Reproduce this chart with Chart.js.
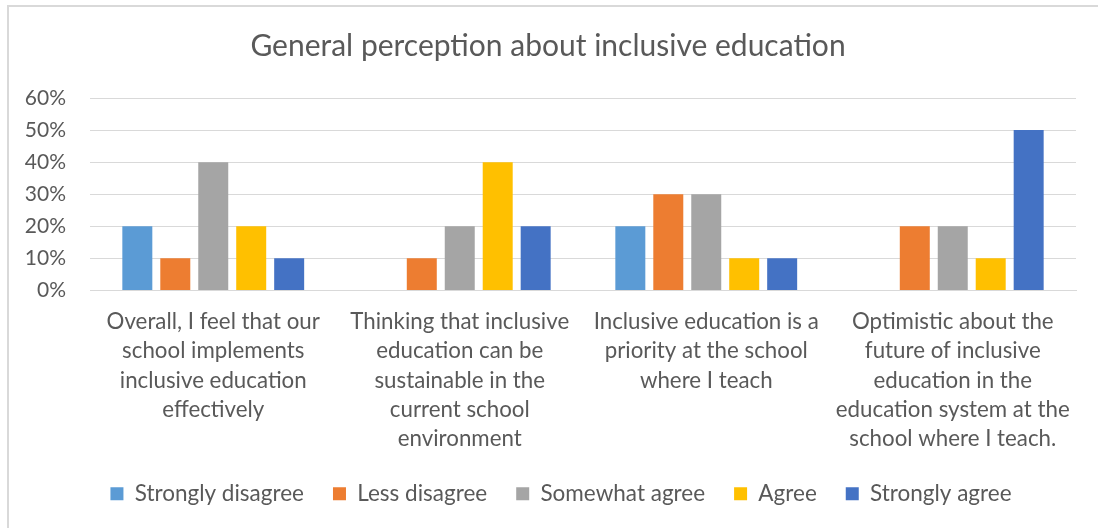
<!DOCTYPE html>
<html><head><meta charset="utf-8">
<script src="https://cdn.jsdelivr.net/npm/chart.js@4"></script>
<style>
html,body{margin:0;padding:0;background:#fff;overflow:hidden}
#frame{position:absolute;left:7px;top:5px;width:1200px;height:600px;border-left:2px solid #d9d9d9;border-top:2px solid #d9d9d9}
#wrap{position:absolute;left:0;top:0;width:1098px;height:528px}
</style></head><body>
<div id="frame"></div>
<div id="wrap"><canvas id="c" width="1098" height="528"></canvas></div>
<script>
const categories = [
  ["Overall, I feel that our","school implements","inclusive education","effectively"],
  ["Thinking that inclusive","education can be","sustainable in the","current school","environment"],
  ["Inclusive education is a","priority at the school","where I teach"],
  ["Optimistic about the","future of inclusive","education in the","education system at the","school where I teach."]
];
const seriesNames = ["Strongly disagree","Less disagree","Somewhat agree","Agree","Strongly agree"];
const stronglyDisagree = [20, 0, 20, 0];
const lessDisagree = [10, 10, 30, 20];
const somewhatAgree = [40, 20, 30, 20];
const agree = [20, 40, 10, 10];
const stronglyAgree = [10, 20, 10, 50];
const yTicks = [0,10,20,30,40,50,60];
const colors = ["#5B9BD5","#ED7D31","#A5A5A5","#FFC000","#4472C4"];
const values = [stronglyDisagree, lessDisagree, somewhatAgree, agree, stronglyAgree];

const FONT = "Lato, 'Open Sans', sans-serif";
Chart.defaults.font.family = FONT;
Chart.defaults.color = "#595959";

const legendShift = {
  id: 'legendShift',
  afterLayout(chart) {
    const l = chart.legend;
    if (l) { l.left += 13; l.right += 13; l.top -= 17; l.bottom -= 17; }
  }
};

new Chart(document.getElementById('c'), {
  type: 'bar',
  data: {
    labels: categories,
    datasets: seriesNames.map((n,i)=>({
      label: n, data: values[i], backgroundColor: colors[i], borderWidth: 0,
      categoryPercentage: 0.77, barPercentage: 0.79
    }))
  },
  options: {
    responsive: false, animation: false,
    layout: { padding: { left: 20, right: 22, top: 28, bottom: -4 } },
    plugins: {
      title: { display: true, text: "General perception about inclusive education",
        font: { size: 30, weight: 'normal', family: FONT, lineHeight: 1.2 }, color: "#595959",
        padding: { top: 0, bottom: 34 } },
      legend: { position: 'bottom',
        labels: { boxWidth: 13, boxHeight: 13, font: { size: 22.5 }, color: "#595959", padding: 29 } },
      tooltip: { enabled: false }
    },
    scales: {
      y: {
        min: 0, max: 60,
        afterBuildTicks: s => { s.ticks = yTicks.map(v=>({value:v})); },
        afterFit: s => { s.width = 70; },
        ticks: { callback: v => v + "%", font: { size: 21 }, color: "#595959", padding: 24 },
        grid: { color: "#d9d9d9", drawTicks: false, lineWidth: 1 },
        border: { display: false }
      },
      x: {
        ticks: { font: { size: 22.3, lineHeight: 1.31 }, color: "#595959", maxRotation: 0, minRotation: 0, autoSkip: false, padding: 17 },
        grid: { display: false, drawTicks: false },
        border: { color: "#d9d9d9", width: 1 }
      }
    }
  },
  plugins: [legendShift]
});
</script></body></html>
